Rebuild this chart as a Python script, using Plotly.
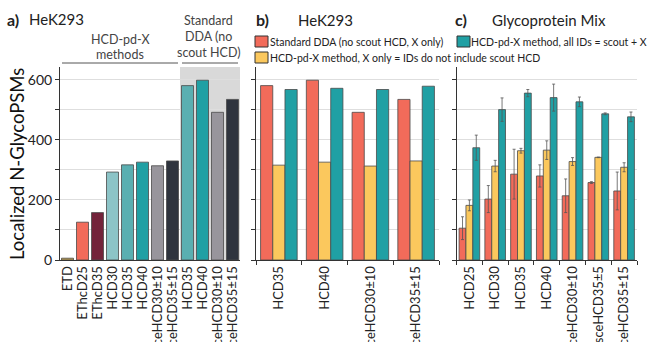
import plotly.graph_objects as go

# ---------------- data ----------------
a_labels = ["ETD", "EThcD25", "EThcD35", "HCD30", "HCD35", "HCD40", "sceHCD30±10", "sceHCD35±15",
            "HCD35", "HCD40", "sceHCD30±10", "sceHCD35±15"]
a_values = [6, 126, 158, 293, 317, 326, 314, 330, 581, 599, 492, 535]
a_colors = ["#c9a64e", "#f26b5a", "#73233a", "#8cc4c7", "#5aafb1", "#20a0a4", "#98959c", "#2f343e",
            "#5aafb1", "#20a0a4", "#98959c", "#2f343e"]

b_labels = ["HCD35", "HCD40", "sceHCD30±10", "sceHCD35±15"]
b_standard = [581, 599, 492, 535]
b_xonly = [316, 326, 313, 330]
b_all = [568, 572, 568, 579]

c_labels = ["HCD25", "HCD30", "HCD35", "HCD40", "sceHCD30±10", "sceHCD35±5", "sceHCD35±15"]
c_standard = [106, 203, 286, 280, 214, 258, 230]
c_standard_err = [38, 45, 83, 37, 56, 3, 63]
c_xonly = [182, 313, 364, 366, 328, 342, 309]
c_xonly_err = [18, 19, 8, 31, 13, 1, 15]
c_all = [374, 501, 556, 541, 527, 487, 477]
c_all_err = [42, 39, 12, 45, 16, 3, 16]

y_ticks = [0, 100, 200, 300, 400, 500, 600]
y_ticktext_a = ["0", "", "200", "", "400", "", "600"]

RED, YEL, TEAL = "#f26b5a", "#fbc85d", "#20a0a4"
EDGE = "#4a4a4a"
FONT = "Lato"

W, H = 647, 342
def px(x): return x / W
def py(y): return 1 - y / H

fig = go.Figure()

# panel a
fig.add_trace(go.Bar(x=list(range(len(a_values))), y=a_values, marker=dict(color=a_colors, line=dict(color=EDGE, width=0.8)),
                     width=0.8, xaxis="x", yaxis="y", showlegend=False))

# panel b
for vals, col, nm in [(b_standard, RED, "Standard DDA (no scout HCD, X only)"),
                      (b_xonly, YEL, "HCD-pd-X method, X only = IDs do not include scout HCD"),
                      (b_all, TEAL, "HCD-pd-X method, all IDs = scout + X")]:
    fig.add_trace(go.Bar(x=b_labels, y=vals, name=nm, marker=dict(color=col, line=dict(color=EDGE, width=0.8)),
                         xaxis="x2", yaxis="y2", showlegend=False))

# panel c
for vals, err, col in [(c_standard, c_standard_err, RED), (c_xonly, c_xonly_err, YEL), (c_all, c_all_err, TEAL)]:
    fig.add_trace(go.Bar(x=c_labels, y=vals, marker=dict(color=col, line=dict(color=EDGE, width=0.8)),
                         error_y=dict(type="data", array=err, color="#555555", thickness=0.8, width=1.5),
                         xaxis="x3", yaxis="y3", showlegend=False))

ydom = [py(260), py(67)]
yrange = [0, 643]
common_y = dict(range=yrange, domain=ydom, tickvals=y_ticks, showgrid=True, gridcolor="#dedede", gridwidth=1,
                showline=True, linecolor="#333333", linewidth=1, ticks="outside", ticklen=4, tickcolor="#333333",
                zeroline=False, fixedrange=True, automargin=False)
common_x = dict(showline=True, linecolor="#333333", linewidth=1, tickangle=-90, tickfont=dict(size=13, color="#222222"),
                showgrid=False, zeroline=False, automargin=False, fixedrange=True)

fig.update_layout(
    width=W, height=H, margin=dict(l=0, r=0, t=0, b=0),
    paper_bgcolor="white", plot_bgcolor="white",
    font=dict(family=FONT, color="#222222"),
    barmode="group", bargap=0.2, bargroupgap=0,
    xaxis=dict(domain=[px(60), px(240)], range=[-0.5, 11.5], tickvals=list(range(len(a_labels))), ticktext=a_labels,
               ticks="", **common_x),
    yaxis=dict(anchor="x", ticktext=y_ticktext_a, tickfont=dict(size=14, color="#222222"), **common_y),
    xaxis2=dict(domain=[px(256), px(439)], anchor="y2", ticks="outside", tickson="boundaries", ticklen=4,
                tickcolor="#333333", **common_x),
    yaxis2=dict(anchor="x2", ticktext=[""] * 7, **common_y),
    xaxis3=dict(domain=[px(456.5), px(637)], anchor="y3", ticks="outside", tickson="boundaries", ticklen=4,
                tickcolor="#333333", **common_x),
    yaxis3=dict(anchor="x3", ticktext=[""] * 7, **common_y),
)

shapes = []
# gray shading behind standard DDA bars in panel a
shapes.append(dict(type="rect", xref="x", yref="paper", x0=7.5, x1=11.5, y0=ydom[0], y1=ydom[1],
                   fillcolor="#d9d9d9", line=dict(width=0), layer="below"))
# bracket lines
shapes.append(dict(type="line", xref="paper", yref="paper", x0=px(62), x1=px(178), y0=py(63), y1=py(63),
                   line=dict(color="#555555", width=1)))
shapes.append(dict(type="line", xref="paper", yref="paper", x0=px(182), x1=px(238), y0=py(63), y1=py(63),
                   line=dict(color="#555555", width=1)))
# legend swatches
for (x0, y0, col) in [(255, 36, RED), (255, 52, YEL), (457, 36, TEAL)]:
    shapes.append(dict(type="rect", xref="paper", yref="paper", x0=px(x0), x1=px(x0 + 13), y0=py(y0 + 11), y1=py(y0),
                       fillcolor=col, line=dict(color="#333333", width=1)))
fig.update_layout(shapes=shapes)

ann = []
def text(x, y, s, size, anchor="left", bold=False, color="#222222", angle=0):
    ann.append(dict(x=px(x), y=py(y), xref="paper", yref="paper", text=(f"<b>{s}</b>" if bold else s), showarrow=False,
                    xanchor=anchor, yanchor="middle", textangle=angle, font=dict(size=size, color=color, family=FONT)))

text(17, 164, "Localized N-GlycoPSMs", 18.5, anchor="center", color="#111111", angle=-90)
text(5, 19, "a)", 16, bold=True)
text(27, 19, "HeK293", 15)
text(120, 39, "HCD-pd-X", 12.5, anchor="center", color="#444444")
text(120, 54, "methods", 12.5, anchor="center", color="#444444")
text(209, 21, "Standard", 12.5, anchor="center", color="#444444")
text(209, 37, "DDA (no", 12.5, anchor="center", color="#444444")
text(209, 52, "scout HCD)", 12.5, anchor="center", color="#444444")
text(254, 19, "b)", 16, bold=True)
text(325, 20, "HeK293", 15, anchor="center")
text(453, 19, "c)", 16, bold=True)
text(549, 20, "Glycoprotein Mix", 15, anchor="center")
text(268, 42, "Standard DDA (no scout HCD, X only)", 10.5)
text(268, 58, "HCD-pd-X method, X only = IDs do not include scout HCD", 10.5)
text(469, 42, "HCD-pd-X method, all IDs = scout + X", 10.5)
fig.update_layout(annotations=ann)

fig.write_html("out.html", config={"displayModeBar": False, "staticPlot": True},
               post_script="document.body.style.margin='0';document.body.style.overflow='hidden';")
